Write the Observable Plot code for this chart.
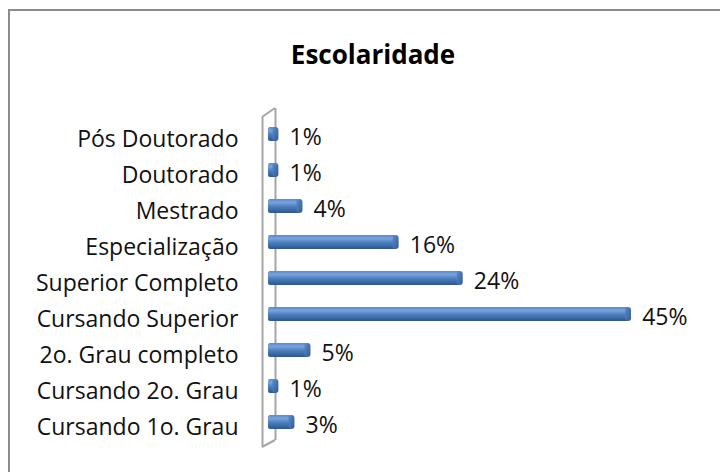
<!DOCTYPE html>
<html>
<head>
<meta charset="utf-8">
<script src="https://cdn.jsdelivr.net/npm/d3@7"></script>
<script src="https://cdn.jsdelivr.net/npm/@observablehq/plot@0.6"></script>
<style>
  html, body { margin: 0; padding: 0; background: #fff; }
  #wrap { position: relative; width: 720px; height: 472px; overflow: hidden; background: #fff; font-family: "Open Sans", sans-serif; }
  #border { position: absolute; left: 8px; top: 9px; width: 760px; height: 520px; border-left: 2px solid #8c8c8c; border-top: 2px solid #8c8c8c; }
  #title { position: absolute; left: 9px; width: 728px; top: 38px; text-align: center; font-size: 26px; font-weight: 700; color: #000; line-height: 32px; }
  #chart { position: absolute; left: 0; top: 0; }
</style>
</head>
<body>
<div id="wrap">
  <div id="border"></div>
  <div id="title">Escolaridade</div>
  <div id="chart"></div>
</div>
<script>
const categories = [
  "Pós Doutorado",
  "Doutorado",
  "Mestrado",
  "Especialização",
  "Superior Completo",
  "Cursando Superior",
  "2o. Grau completo",
  "Cursando 2o. Grau",
  "Cursando 1o. Grau"
];
const values = [1, 1, 4, 16, 24, 45, 5, 1, 3];
const valueLabels = ["1%", "1%", "4%", "16%", "24%", "45%", "5%", "1%", "3%"];

const data = categories.map((c, i) => ({cat: c, v: values[i], label: valueLabels[i]}));

const wallColor = "#a6a6a6";
const mTop = 101, mBottom = 17;

const plot = Plot.plot({
  width: 720,
  height: 472,
  marginLeft: 268,
  marginRight: 0,
  marginTop: mTop,
  marginBottom: mBottom,
  style: {background: "transparent", fontFamily: "'Open Sans', sans-serif", color: "#000"},
  x: {domain: [0, 56.4], axis: null},
  y: {domain: categories, padding: 0.6, axis: null},
  marks: [
    // 3D wall (back and front edges)
    Plot.ruleX([0], {dx: -6, insetTop: 16, insetBottom: 8, stroke: wallColor, strokeWidth: 2}),
    Plot.ruleX([0], {dx: 7, insetTop: 7, insetBottom: 15, stroke: wallColor, strokeWidth: 2}),
    // category labels
    Plot.axisY({tickSize: 0, tickPadding: 30, fontSize: 23, dy: 5, fill: "#111", label: null}),
    // bar bodies
    Plot.barX(data, {x1: 0, x2: "v", y: "cat", fill: "url(#barGrad)", rx: 2}),
    // bar end caps
    Plot.barX(data, {x1: d => d.v - 0.45, x2: d => d.v + 0.3, y: "cat", fill: "url(#capGrad)", rx: 3}),
    // value labels
    Plot.text(data, {x: "v", y: "cat", text: "label", textAnchor: "start", dx: 13, dy: 3, fontSize: 23, fill: "#111"})
  ]
});

// gradients for cylinder look
const svg = d3.select(plot);
const defs = svg.insert("defs", ":first-child");
const g1 = defs.append("linearGradient").attr("id", "barGrad").attr("x1", 0).attr("y1", 0).attr("x2", 0).attr("y2", 1);
g1.append("stop").attr("offset", "0%").attr("stop-color", "#5a8bcb");
g1.append("stop").attr("offset", "25%").attr("stop-color", "#78a3da");
g1.append("stop").attr("offset", "55%").attr("stop-color", "#4b7dbe");
g1.append("stop").attr("offset", "100%").attr("stop-color", "#2c568e");
const g2 = defs.append("linearGradient").attr("id", "capGrad").attr("x1", 0).attr("y1", 0).attr("x2", 1).attr("y2", 1);
g2.append("stop").attr("offset", "0%").attr("stop-color", "#5b8ccb");
g2.append("stop").attr("offset", "100%").attr("stop-color", "#2f5b94");

// slanted edges of the wall, derived from the x scale and frame
const xs = plot.scale("x");
const x0 = xs.apply(0);
const frameTop = mTop, frameBottom = 472 - mBottom;
const slants = [
  [[x0 - 6, frameTop + 16], [x0 + 7, frameTop + 7]],
  [[x0 - 6, frameBottom - 8], [x0 + 7, frameBottom - 15]]
];
svg.insert("g", "g")
  .selectAll("path")
  .data(slants)
  .join("path")
  .attr("d", d => d3.line()(d))
  .attr("stroke", wallColor)
  .attr("stroke-width", 2)
  .attr("fill", "none");

document.getElementById("chart").appendChild(plot);
</script>
</body>
</html>
